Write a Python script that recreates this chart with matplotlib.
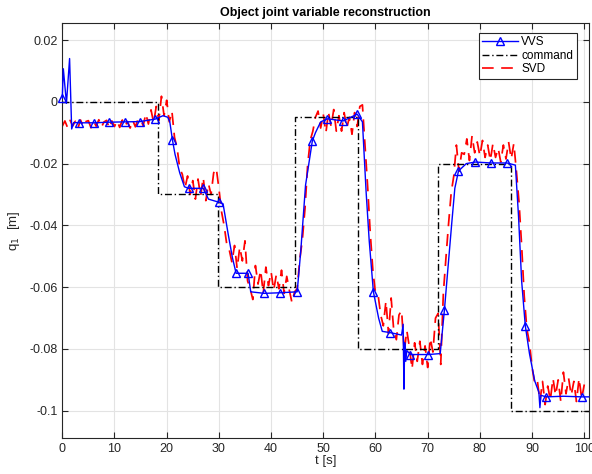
import numpy as np
import matplotlib
matplotlib.use("Agg")
import matplotlib.pyplot as plt
from matplotlib.lines import Line2D

plt.rcParams['font.family'] = ['Liberation Sans', 'DejaVu Sans']
plt.rcParams['axes.unicode_minus'] = False

# ---------------- data ----------------
# command (step reference)
cmd_t = [0, 18.4, 18.4, 29.9, 29.9, 44.6, 44.6, 56.7, 56.7, 72.0, 72.0, 86.0, 86.0, 100.9]
cmd_q = [0, 0, -0.030, -0.030, -0.060, -0.060, -0.005, -0.005, -0.080, -0.080, -0.020, -0.020, -0.100, -0.100]

# VVS reconstruction (values in 1e-3 m)
vvs_t = [0, 0.2, 0.8, 1.4, 1.8, 2.2, 3.2, 6.1, 9.0, 12.0, 14.9, 17.8, 19.3, 20.2, 20.6,
         21.1, 21.6, 22.5, 23.4, 24.2, 27.0, 28.0, 30.0, 30.8, 31.8, 32.6, 33.3, 35.6,
         36.1, 38.7, 41.8, 45.0, 45.7, 46.6, 47.9, 48.5, 49.5, 50.8, 53.8, 56.5, 57.5,
         58.2, 58.8, 59.6, 60.6, 61.3, 62.8, 65.0, 65.3, 65.45, 65.6, 65.8, 66.0, 66.7,
         70.1, 72.4, 73.2, 74.6, 75.2, 75.9, 77.4, 79.1, 82.2, 85.2, 86.8, 87.4, 88.0,
         88.7, 89.5, 90.5, 91.3, 91.5, 91.7, 92.7, 96.0, 99.6, 100.9]
vvs_mq = [1.3, 10.7, -0.5, 14.0, -8.8, -6.7, -6.8, -6.8, -6.6, -6.5, -6.4, -5.6, -4.5, -5.0, -6.5,
          -12.3, -17.0, -23.0, -27.5, -28.0, -28.0, -31.5, -32.5, -33.0, -43.0, -50.5, -55.5, -55.5,
          -61.5, -62.0, -61.8, -61.5, -48.0, -27.0, -12.7, -10.0, -6.5, -5.5, -6.2, -4.0, -6.5,
          -29.0, -45.0, -61.5, -70.0, -74.3, -74.7, -75.5, -72.0, -93.0, -78.0, -84.0, -80.5, -81.8,
          -81.8, -81.5, -67.5, -39.5, -28.0, -22.4, -20.0, -19.5, -19.8, -19.8, -20.5, -37.0, -58.0,
          -72.5, -81.5, -90.3, -94.0, -99.0, -95.0, -95.5, -95.3, -95.5, -95.5]
vvs_marker_t = [0, 3.2, 6.1, 9.0, 12.0, 14.9, 17.8, 21.1, 24.2, 27.0, 30.0, 33.3, 35.6, 38.7,
                41.8, 45.0, 47.9, 50.8, 53.8, 56.5, 59.6, 62.8, 66.7, 70.1, 73.2, 75.9, 79.1,
                82.2, 85.2, 88.7, 92.7, 99.6]

# SVD reconstruction, sampled every 0.5 s from 0 to 100 s (values in 1e-3 m)
svd_t_start, svd_t_end = 0.0, 100.0
svd_mq = [
    -7.9, -6.2, -8.3, -6.0, -7.8, -6.3, -8.5, -5.9, -8.0, -6.4,
    -6.1, -8.4, -6.3, -7.9, -5.8, -8.2, -6.5, -6.0, -8.6, -6.2,
    -8.0, -6.1, -8.3, -5.9, -7.9, -6.4, -8.5, -6.0, -8.1, -5.7,
    -5.5, -7.8, -3.8, -7.2, -2.6, -6.8, -1.5, -6.0, 1.8, -4.5,
    0.5, -6.5, -3.0, -11.5, -15.0, -21.5, -23.5, -28.0, -24.0, -30.0,
    -25.5, -31.5, -25.0, -30.5, -24.5, -32.0, -26.5, -30.0, -23.0, -21.5,
    -28.0, -35.5, -40.0, -46.0, -48.0, -52.0, -46.5, -54.0, -47.0, -51.5,
    -45.0, -58.0, -60.5, -64.0, -53.0, -59.0, -54.5, -62.0, -53.5, -59.5,
    -55.0, -61.0, -56.0, -60.5, -54.5, -62.0, -56.5, -61.0, -65.0, -61.5,
    -60.5, -51.0, -44.5, -34.5, -20.5, -12.5, -9.5, -5.0, -3.0, -8.5,
    -4.0, -10.0, -3.5, -8.0, -2.5, -9.5, -4.5, -9.5, -3.5, -8.5,
    -5.0, -10.5, -3.5, -8.0, -1.5, -1.0, -14.5, -27.5, -42.5, -54.5,
    -62.0, -62.5, -69.0, -72.5, -64.5, -75.0, -63.5, -74.0, -77.0, -69.0,
    -67.5, -81.0, -74.0, -79.5, -86.5, -78.0, -84.0, -77.5, -85.0, -79.0,
    -86.0, -76.5, -81.0, -70.0, -68.5, -85.0, -62.0, -50.5, -39.5, -29.5,
    -24.0, -14.0, -22.5, -16.5, -17.0, -12.0, -19.0, -11.0, -16.5, -13.0,
    -17.5, -12.5, -18.0, -14.0, -19.0, -13.5, -18.0, -15.0, -19.5, -14.0,
    -18.5, -13.0, -18.5, -13.5, -22.5, -32.5, -46.5, -63.0, -73.5, -78.0,
    -86.0, -91.0, -90.0, -97.0, -90.5, -98.0, -92.0, -96.5, -89.5, -95.0,
    -90.0, -97.0, -87.5, -94.5, -89.5, -95.0, -90.5, -97.0, -89.5, -96.0,
    -91.5,
]

x_ticks = [0, 10, 20, 30, 40, 50, 60, 70, 80, 90, 100]
y_ticks = [0.02, 0, -0.02, -0.04, -0.06, -0.08, -0.1]
y_ticklabels = ['0.02', '0', '-0.02', '-0.04', '-0.06', '-0.08', '-0.1']

# ---------------- plot ----------------
fig = plt.figure(figsize=(5.92, 4.74), dpi=100)
ax = fig.add_axes([0.1052, 0.0754, 0.8897, 0.8754])

vvs_t_arr = np.array(vvs_t)
vvs_q_arr = np.array(vvs_mq) * 1e-3
svd_q_arr = np.array(svd_mq) * 1e-3
svd_t_arr = np.linspace(svd_t_start, svd_t_end, len(svd_mq))
mark_idx = [int(np.argmin(np.abs(vvs_t_arr - m))) for m in vvs_marker_t]

svd_ls = (0, (7, 4.5))
cmd_ls = (0, (5, 2, 1, 2))

ax.plot(svd_t_arr, svd_q_arr, color='red', lw=1.25, linestyle=svd_ls, zorder=2)
ax.plot(cmd_t, cmd_q, color='black', lw=1.0, linestyle=cmd_ls, zorder=3)
ax.plot(vvs_t_arr, vvs_q_arr, color='blue', lw=1.0, marker='^', markersize=6,
        markerfacecolor='none', markeredgecolor='blue', markeredgewidth=1.0,
        markevery=mark_idx, zorder=4, clip_on=False)

ax.set_xlim(0, 100.9)
ax.set_ylim(-0.1089, 0.0254)
ax.set_xticks(x_ticks)
ax.set_yticks(y_ticks)
ax.set_yticklabels(y_ticklabels)
ax.grid(True, color='#e3e3e3', lw=0.8)
ax.set_axisbelow(True)
ax.tick_params(direction='in', top=True, right=True, labelsize=9, colors='#262626',
               length=4, width=0.8)
for s in ax.spines.values():
    s.set_color('#262626')
    s.set_linewidth(0.8)

ax.set_title('Object joint variable reconstruction', fontsize=9, fontweight='bold', pad=5)
ax.set_xlabel('t [s]', fontsize=9.5, color='#262626', labelpad=0)
ax.set_ylabel('q$_1$  [m]', fontsize=9.5, color='#262626', labelpad=5)

handles = [
    Line2D([], [], color='blue', lw=1.0, marker='^', markersize=6, markerfacecolor='none',
           markeredgecolor='blue'),
    Line2D([], [], color='black', lw=1.0, linestyle=cmd_ls),
    Line2D([], [], color='red', lw=1.2, linestyle=svd_ls),
]
leg = ax.legend(handles, ['VVS', 'command', 'SVD'], loc='upper right', fontsize=8.5,
                fancybox=False, framealpha=1, edgecolor='#262626', handlelength=3.0,
                handletextpad=0.3, borderpad=0.3, labelspacing=0.12,
                borderaxespad=0, bbox_to_anchor=(0.977, 0.977))
leg.get_frame().set_linewidth(0.8)

fig.savefig('out.png', dpi=100)
